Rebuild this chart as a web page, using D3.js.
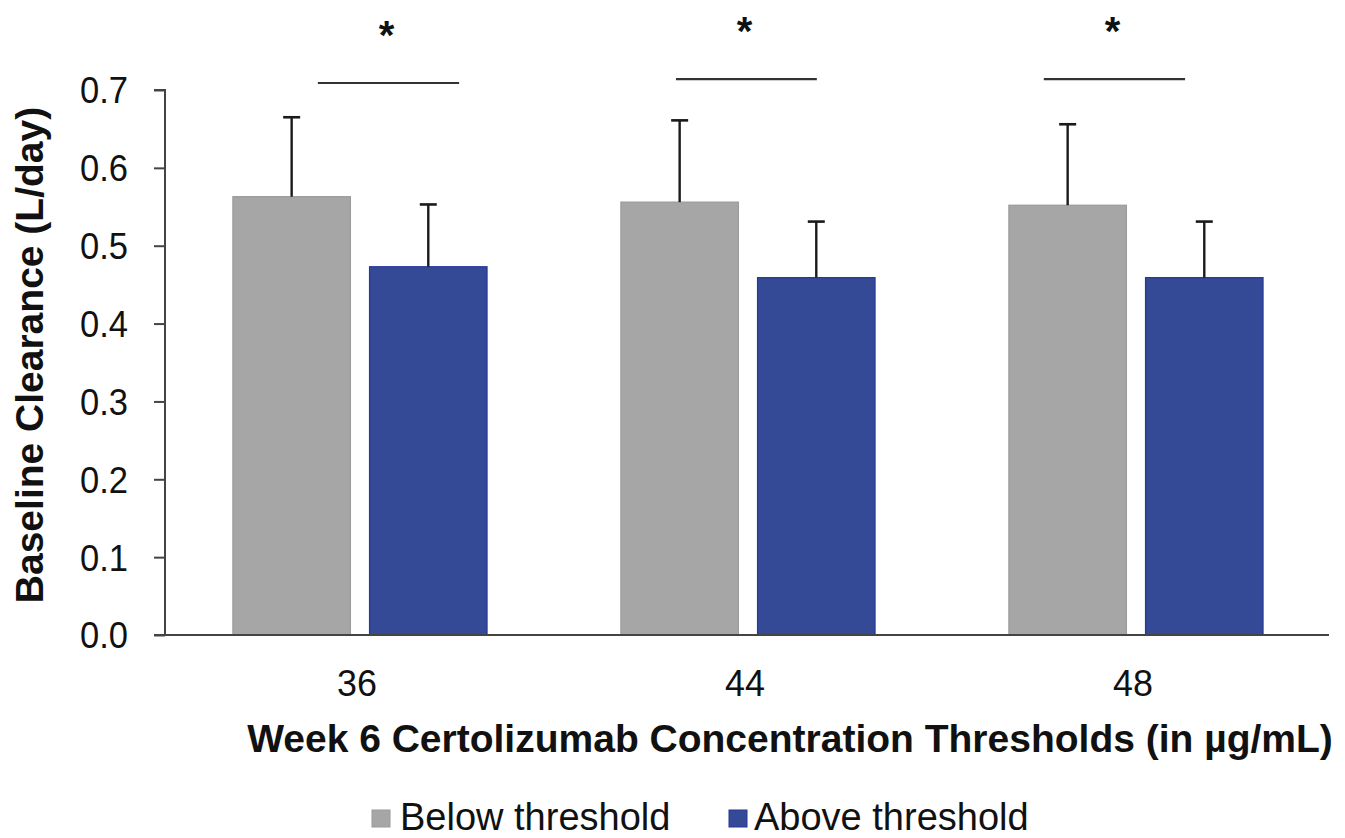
<!DOCTYPE html>
<html>
<head>
<meta charset="utf-8">
<script src="https://cdn.jsdelivr.net/npm/d3@7/dist/d3.min.js"></script>
<style>
  html, body { margin: 0; padding: 0; background: #fff; }
  svg { display: block; }
  text { font-family: "Liberation Sans", Arial, sans-serif; fill: #111; }
</style>
</head>
<body>
<svg id="chart" width="1345" height="838"></svg>
<script>
// ---- data ----
const categories = ["36", "44", "48"];
const seriesNames = ["Below threshold", "Above threshold"];
const belowValues = [0.563, 0.556, 0.552];
const aboveValues = [0.473, 0.459, 0.459];
const belowErr = [0.102, 0.105, 0.104];
const aboveErr = [0.080, 0.072, 0.072];
const yTicks = [0.0, 0.1, 0.2, 0.3, 0.4, 0.5, 0.6, 0.7];
// significance bars: y value and extent as fraction of the group band
const sigY = [0.709, 0.714, 0.714];
const sigFrom = [0.394, 0.317, 0.265];
const sigTo = [0.758, 0.680, 0.629];
const sigLabel = ["*", "*", "*"];
const xTitle = "Week 6 Certolizumab Concentration Thresholds (in µg/mL)";
const yTitle = "Baseline Clearance (L/day)";

const colors = { "Below threshold": "#a6a6a6", "Above threshold": "#344a96" };
const strokes = { "Below threshold": "#9a9a9a", "Above threshold": "#22389a" };

const svg = d3.select("#chart");
const plot = { left: 165, right: 1329, top: 90, bottom: 635 };

const y = d3.scaleLinear().domain([0, 0.7]).range([plot.bottom, plot.top]);
const x0 = d3.scaleBand().domain(categories).range([plot.left, plot.right]).paddingInner(0).paddingOuter(0);
const bw = x0.bandwidth();
const x1 = d3.scaleBand().domain(seriesNames).range([bw * 0.175, bw * 0.83]).paddingInner(0.14).paddingOuter(0);

const rows = categories.map((c, i) => ({
  cat: c,
  vals: [
    { s: seriesNames[0], v: belowValues[i], e: belowErr[i] },
    { s: seriesNames[1], v: aboveValues[i], e: aboveErr[i] }
  ]
}));

// bars
const g = svg.append("g");
const groups = g.selectAll("g.grp").data(rows).join("g")
  .attr("transform", d => `translate(${x0(d.cat)},0)`);

groups.selectAll("rect").data(d => d.vals).join("rect")
  .attr("x", d => x1(d.s))
  .attr("y", d => y(d.v))
  .attr("width", x1.bandwidth())
  .attr("height", d => y(0) - y(d.v))
  .attr("fill", d => colors[d.s])
  .attr("stroke", d => strokes[d.s])
  .attr("stroke-width", 1.2);

// error bars (upper only)
const capW = 17;
groups.selectAll("g.err").data(d => d.vals).join("g").attr("class", "err")
  .each(function(d) {
    const cx = x1(d.s) + x1.bandwidth() / 2;
    const sel = d3.select(this);
    sel.append("line")
      .attr("x1", cx).attr("x2", cx)
      .attr("y1", y(d.v)).attr("y2", y(d.v + d.e))
      .attr("stroke", "#1a1a1a").attr("stroke-width", 2.4);
    sel.append("line")
      .attr("x1", cx - capW / 2).attr("x2", cx + capW / 2)
      .attr("y1", y(d.v + d.e)).attr("y2", y(d.v + d.e))
      .attr("stroke", "#1a1a1a").attr("stroke-width", 2.6);
  });

function squeeze(sel, k) {
  sel.each(function() {
    const w = this.getComputedTextLength();
    d3.select(this).attr("textLength", w * k).attr("lengthAdjust", "spacingAndGlyphs");
  });
}

// axes
const yAxis = d3.axisLeft(y).tickValues(yTicks).tickFormat(d3.format(".1f")).tickSize(11).tickPadding(26);
const yg = svg.append("g").attr("transform", `translate(${plot.left},0)`).call(yAxis);
yg.select(".domain").attr("stroke", "#444").attr("stroke-width", 2).attr("d", `M-11,${plot.top}H0V${plot.bottom}`);
yg.selectAll(".tick line").attr("stroke", "#444").attr("stroke-width", 2);
yg.selectAll(".tick text").style("font-size", "36px").attr("fill", "#111")
  .style("font-family", '"Liberation Sans", Arial, sans-serif').attr("dy", "0.36em");
squeeze(yg.selectAll(".tick text"), 0.96);

const xAxis = d3.axisBottom(x0).tickSize(0).tickPadding(35);
const xg = svg.append("g").attr("transform", `translate(0,${plot.bottom})`).call(xAxis);
xg.select(".domain").attr("stroke", "#444").attr("stroke-width", 2).attr("d", `M${plot.left - 11},0H${plot.right}`);
xg.selectAll(".tick text").style("font-size", "37px").attr("fill", "#111")
  .style("font-family", '"Liberation Sans", Arial, sans-serif').attr("dy", "0.71em").attr("dx", "-2");
squeeze(xg.selectAll(".tick text"), 0.97);

// significance lines
categories.forEach((c, i) => {
  const xa = x0(c) + sigFrom[i] * bw, xb = x0(c) + sigTo[i] * bw;
  svg.append("line")
    .attr("x1", xa).attr("x2", xb)
    .attr("y1", y(sigY[i])).attr("y2", y(sigY[i]))
    .attr("stroke", "#333").attr("stroke-width", 2.2);
  svg.append("text")
    .attr("x", (xa + xb) / 2 - 2)
    .attr("y", y(sigY[i]) - 34)
    .attr("text-anchor", "middle")
    .style("font-size", "40px").style("font-weight", "bold")
    .text(sigLabel[i]);
});

// axis titles
svg.append("text")
  .attr("x", 790).attr("y", 752)
  .attr("text-anchor", "middle")
  .style("font-size", "39px").style("font-weight", "bold")
  .text(xTitle);

svg.append("text")
  .attr("transform", `translate(43,355) rotate(-90)`)
  .attr("text-anchor", "middle")
  .style("font-size", "39px").style("font-weight", "bold")
  .text(yTitle);

// legend
const legendX = [372, 729];
const lg = svg.append("g");
seriesNames.forEach((s, i) => {
  lg.append("rect").attr("x", legendX[i]).attr("y", 810).attr("width", 18).attr("height", 17)
    .attr("fill", colors[s]).attr("stroke", strokes[s]).attr("stroke-width", 1);
  lg.append("text").attr("x", legendX[i] + (i === 0 ? 28 : 25)).attr("y", 830)
    .style("font-size", "38px").text(s);
});
</script>
</body>
</html>
